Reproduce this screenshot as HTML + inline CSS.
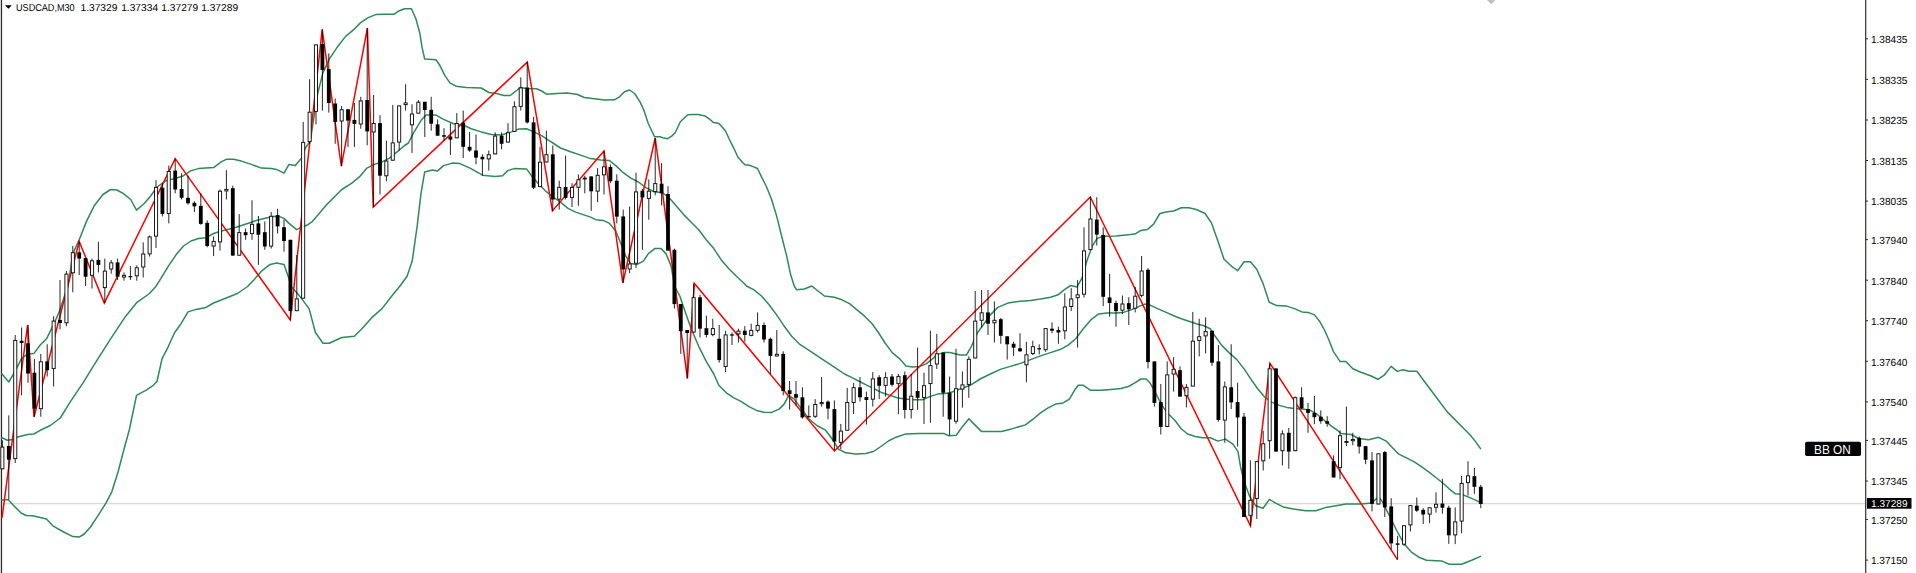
<!DOCTYPE html>
<html><head><meta charset="utf-8"><title>USDCAD,M30</title>
<style>
html,body{margin:0;padding:0;background:#fff;}
body{width:1916px;height:573px;overflow:hidden;font-family:"Liberation Sans",sans-serif;}
svg{display:block;position:absolute;left:0;top:0;}
text{font-family:"Liberation Sans",sans-serif;}
</style></head><body>
<svg width="1916" height="573" viewBox="0 0 1916 573">
<rect width="1916" height="573" fill="#fff"/>

<rect x="0.8" y="0" width="1.3" height="573" fill="#2a2a2a"/>
<rect x="2" y="502.9" width="1864" height="1.4" fill="#d9d9d9"/>
<polygon points="1487,0 1495.4,0 1491.2,4.2" fill="#c0c0c0"/>
<polyline points="2.0,374.0 8.8,382.0 15.0,371.4 21.4,358.9 27.6,353.9 34.0,353.4 40.2,345.0 46.5,338.8 52.8,326.2 59.0,312.4 65.3,293.5 67.9,286.5 72.9,253.6 79.2,239.8 86.7,220.9 94.2,205.8 103.0,194.5 110.6,189.5 116.9,190.0 123.1,193.3 130.7,199.5 136.5,210.1 144.5,203.3 150.8,195.8 157.1,187.0 165.9,180.7 176.0,178.2 183.5,175.7 191.0,170.6 198.5,168.6 206.0,168.1 213.6,167.6 221.2,161.8 226.2,159.3 233.7,159.3 241.3,161.1 251.3,164.4 261.4,168.1 271.4,168.6 276.5,169.4 284.0,173.2 289.0,164.4 295.3,165.6 301.6,158.0 305.4,148.0 310.4,140.6 313.5,120.0 317.7,93.5 322.9,72.9 329.2,59.1 336.8,47.8 345.6,36.4 353.1,30.2 360.6,22.6 368.2,17.6 375.7,14.6 384.5,14.3 393.8,14.3 398.3,11.3 404.6,8.8 411.4,8.8 415.9,18.8 419.7,32.7 422.2,47.8 424.7,59.1 436.0,59.8 439.8,65.3 444.8,75.4 449.9,82.9 456.1,86.2 466.2,87.5 481.3,88.0 488.8,92.5 496.4,93.5 503.9,95.5 510.2,95.5 515.2,91.7 520.2,87.5 526.5,88.5 536.6,88.7 541.6,91.0 546.6,94.2 556.7,93.5 566.7,93.0 576.8,94.2 584.3,97.5 594.4,98.8 604.4,100.0 614.5,99.8 619.5,96.8 624.5,91.7 629.5,90.0 634.6,93.5 640.0,101.9 643.8,110.0 648.2,123.2 654.5,136.8 660.1,136.8 663.9,138.1 667.6,138.7 671.4,136.4 675.2,132.7 680.2,122.0 684.0,118.2 687.8,114.8 692.8,114.5 698.4,114.5 701.6,115.3 705.3,116.1 709.1,118.8 713.5,122.6 718.5,123.2 721.7,126.4 725.4,130.8 729.2,139.0 733.6,147.8 738.0,157.2 741.8,161.6 744.9,164.7 749.3,165.3 753.1,166.6 757.5,168.5 761.5,176.9 766.6,187.0 771.6,199.5 776.6,215.9 781.6,236.0 786.7,256.1 790.4,273.7 794.2,286.0 796.7,289.8 804.2,289.0 811.8,286.0 818.0,291.0 824.4,296.0 834.4,297.3 842.0,299.8 849.5,303.6 857.0,309.9 864.6,316.2 872.1,323.7 878.4,332.5 884.7,342.5 892.2,352.6 899.8,358.9 906.0,365.9 912.3,366.9 919.9,366.4 926.1,363.9 932.4,358.9 937.5,354.4 943.7,352.6 950.0,352.6 960.1,355.1 966.4,355.1 971.4,346.3 977.7,332.5 984.0,323.7 990.3,314.9 997.8,307.4 1007.9,303.1 1017.9,301.6 1030.5,300.6 1040.5,299.1 1050.6,297.3 1058.1,294.8 1064.4,289.6 1070.7,285.5 1077.0,286.9 1082.0,278.1 1087.0,260.5 1092.0,246.7 1097.1,238.4 1103.4,236.2 1115.9,235.9 1126.0,234.9 1134.8,234.1 1141.0,230.4 1147.3,229.6 1153.6,224.1 1159.9,213.5 1166.2,212.0 1173.7,211.0 1181.3,207.8 1188.8,207.8 1196.3,209.5 1205.1,213.5 1211.4,222.8 1217.7,240.4 1224.0,259.3 1231.5,266.3 1237.8,270.6 1244.1,261.8 1250.4,261.8 1256.7,269.3 1262.9,283.1 1269.2,302.2 1276.8,305.6 1286.8,306.1 1294.4,308.6 1301.9,311.9 1308.2,312.4 1314.5,314.9 1319.5,321.2 1324.5,330.0 1328.9,340.0 1333.3,351.3 1340.2,361.6 1345.9,361.6 1352.8,368.7 1360.3,372.0 1370.4,375.8 1377.9,379.3 1384.2,375.2 1391.1,366.4 1397.4,371.4 1403.0,369.8 1408.7,371.2 1416.9,371.2 1424.4,381.5 1435.7,396.5 1447.0,411.6 1464.2,429.0 1470.4,435.3 1475.5,441.6 1480.5,448.6" fill="none" stroke="#2e8b57" stroke-width="1.5" stroke-linejoin="round" stroke-linecap="round"/>
<polyline points="2.0,437.8 7.5,440.3 12.6,439.6 17.6,437.0 27.6,434.5 33.9,434.0 40.2,430.3 50.3,425.5 60.3,418.0 70.4,401.6 83.0,382.8 95.5,362.7 110.6,338.8 125.7,316.2 137.0,302.3 149.5,293.5 155.8,286.5 160.8,278.7 168.4,266.1 176.0,254.8 183.5,246.0 191.0,241.0 198.5,238.5 206.0,237.7 213.6,233.5 221.2,231.0 228.7,229.2 236.2,227.2 243.8,224.7 251.3,222.2 258.9,219.7 266.4,217.9 272.7,216.4 279.0,216.4 284.0,218.4 289.0,223.4 296.6,229.7 301.6,227.2 307.9,224.7 311.6,222.2 319.2,213.4 326.7,204.6 334.3,197.0 341.8,189.5 351.8,183.2 359.4,176.9 366.9,168.1 374.5,164.4 382.0,161.8 389.5,158.1 397.1,151.8 404.6,145.5 408.4,143.0 413.4,133.2 421.0,120.6 426.0,115.1 436.0,115.1 443.6,119.4 453.6,123.7 463.7,125.2 471.2,128.7 481.3,131.9 491.3,134.5 501.4,135.0 511.4,131.9 519.0,128.9 526.5,128.7 534.0,131.9 541.6,135.7 549.1,140.7 552.9,143.0 560.5,148.0 570.5,151.8 580.6,155.1 590.6,158.6 600.7,160.1 609.5,160.6 615.8,165.6 623.3,172.7 630.8,178.2 638.4,182.0 645.9,187.7 653.5,191.5 662.3,192.8 668.5,197.0 676.1,205.8 683.6,214.6 691.2,222.2 698.7,229.7 706.2,239.8 713.8,248.6 721.3,259.9 728.9,268.7 736.4,276.2 743.9,283.2 746.5,286.0 754.0,289.8 761.5,296.0 769.1,304.8 776.6,314.9 784.2,326.2 791.7,336.3 799.2,343.8 806.8,348.8 814.3,353.9 821.8,358.9 829.4,363.9 836.9,368.9 844.5,374.0 852.0,377.7 859.5,381.5 867.1,385.3 874.6,389.0 882.2,392.8 889.7,395.3 897.2,397.8 904.8,399.1 912.3,399.8 922.4,399.8 929.9,396.6 937.5,394.1 945.0,393.6 950.0,392.8 960.1,389.0 970.2,385.3 980.2,379.0 990.3,374.0 1000.3,369.4 1010.4,366.4 1020.4,363.4 1030.5,359.6 1040.5,355.9 1050.6,352.6 1060.6,349.3 1068.2,345.1 1075.7,338.8 1083.3,328.7 1090.8,319.9 1098.3,314.1 1107.1,312.9 1115.9,313.1 1123.5,312.4 1131.0,309.9 1138.5,306.6 1144.8,304.1 1151.1,305.6 1158.7,309.1 1166.2,312.4 1173.7,315.7 1181.3,318.7 1188.8,321.2 1196.3,323.7 1203.9,325.7 1210.2,328.7 1215.2,336.3 1221.5,345.1 1229.0,352.6 1236.6,359.4 1244.1,368.9 1251.6,380.2 1257.9,389.0 1264.2,396.6 1271.7,402.1 1279.3,405.4 1286.8,407.4 1294.4,408.6 1301.9,409.1 1309.4,409.9 1317.0,414.2 1324.5,420.5 1332.1,426.7 1337.1,430.0 1341.0,433.5 1351.1,434.5 1358.6,438.5 1368.6,439.8 1378.7,437.3 1386.2,441.1 1392.5,447.8 1398.8,454.1 1406.4,457.9 1413.9,461.7 1421.4,466.7 1429.0,472.2 1436.5,478.0 1442.8,483.0 1449.1,488.8 1455.4,493.8 1461.6,494.3 1469.2,497.4 1476.7,500.6 1481.7,503.1" fill="none" stroke="#2e8b57" stroke-width="1.5" stroke-linejoin="round" stroke-linecap="round"/>
<polyline points="2.0,500.1 8.0,499.4 15.0,506.9 21.4,513.2 26.4,515.5 32.7,515.7 40.2,517.5 46.5,519.0 52.8,525.8 62.8,531.5 72.9,536.6 79.2,537.1 84.2,534.0 90.5,527.0 98.0,515.7 105.6,503.6 111.8,491.8 118.1,471.7 124.4,447.8 129.4,429.5 136.5,395.3 145.8,390.3 153.3,385.3 157.0,381.5 162.0,358.9 168.4,346.3 174.7,332.5 181.0,323.7 188.0,311.9 196.0,309.4 206.0,307.4 213.6,303.0 226.2,298.0 237.5,293.5 247.6,286.5 253.8,280.0 261.4,271.2 270.2,264.4 276.5,263.1 284.0,264.4 289.0,278.7 291.5,287.0 295.3,291.0 301.6,298.6 309.1,308.6 315.4,332.5 323.0,343.3 329.2,343.3 341.8,337.5 354.4,336.3 361.9,328.7 372.0,317.4 382.0,308.6 390.8,297.3 399.6,286.5 407.1,276.2 412.2,261.1 417.2,225.9 421.0,193.3 424.7,171.9 432.3,170.1 437.3,171.1 443.6,165.6 452.4,163.1 459.9,163.6 470.0,168.1 482.6,175.2 495.1,176.4 502.7,175.7 507.7,170.6 514.0,168.6 526.5,168.9 531.6,175.7 537.9,183.2 545.4,190.8 552.9,197.0 560.5,202.1 568.0,208.3 575.6,212.1 583.1,214.6 590.6,217.1 595.7,219.7 603.2,220.4 609.5,223.4 615.8,231.0 620.8,243.5 625.8,256.1 630.8,263.6 637.1,264.4 643.4,261.1 648.4,253.6 654.7,248.6 661.0,248.6 666.0,253.6 671.1,266.1 674.8,286.5 679.8,296.0 684.9,311.1 691.2,328.7 698.7,346.3 706.2,361.4 713.8,374.0 718.8,385.3 726.3,392.8 733.9,397.8 741.4,401.6 749.0,406.6 756.5,410.4 764.0,412.2 771.6,412.4 779.1,409.1 784.1,404.1 788.7,395.3 794.2,399.1 801.7,409.1 809.3,419.2 816.8,425.5 825.6,430.2 833.1,440.2 838.2,449.0 845.7,452.8 855.8,454.0 865.8,453.5 873.4,451.5 880.9,446.5 888.4,441.0 896.0,437.2 906.0,433.9 918.6,433.4 943.7,433.4 948.8,435.7 956.3,435.2 962.6,426.4 968.9,418.8 975.1,425.1 981.4,431.4 1001.5,431.4 1011.6,428.9 1025.4,424.9 1033.0,419.2 1040.5,412.9 1048.1,407.9 1055.6,404.1 1063.1,402.9 1069.4,399.1 1074.5,390.3 1078.2,385.3 1083.3,385.3 1090.8,390.3 1100.8,390.3 1110.9,389.5 1120.9,388.5 1128.5,386.5 1134.8,382.8 1141.0,379.0 1146.1,379.0 1149.9,382.8 1153.6,389.0 1158.7,399.1 1163.7,407.9 1168.7,414.2 1175.0,420.5 1181.4,429.0 1187.7,434.0 1195.2,436.5 1202.8,437.8 1210.3,437.8 1217.9,441.1 1225.4,439.1 1232.9,444.1 1238.0,451.6 1240.5,466.7 1244.2,481.8 1249.3,495.6 1255.6,505.7 1263.1,508.2 1269.4,499.4 1275.7,503.1 1283.2,506.9 1293.3,508.9 1305.8,510.7 1315.9,510.7 1325.9,507.4 1336.0,505.7 1346.0,503.9 1361.1,503.9 1371.2,503.1 1378.7,496.9 1382.5,501.9 1386.2,509.4 1391.3,519.5 1397.5,532.0 1403.8,543.4 1411.4,552.1 1418.9,557.2 1426.5,560.2 1441.5,560.9 1449.1,564.2 1461.6,564.2 1471.7,560.2 1480.5,556.4" fill="none" stroke="#2e8b57" stroke-width="1.5" stroke-linejoin="round" stroke-linecap="round"/>
<polyline points="2.0,518.0 27.6,325.0 34.0,417.0 79.2,241.5 104.3,303.1 175.2,158.6 290.3,320.0 322.2,29.4 341.3,166.1 367.4,28.1 373.2,207.1 527.3,62.1 552.4,210.9 604.0,151.0 622.8,283.0 655.2,138.0 687.4,378.5 694.4,283.5 834.4,451.0 1090.3,196.9 1250.5,525.8 1270.0,363.4 1397.5,559.7" fill="none" stroke="#ff0000" stroke-width="1.5" stroke-linejoin="miter"/>
<path d="M2.4 440.4V469.2M8.8 415.4V499.4M15.2 335.0V463.0M21.6 327.5V395.3M28.0 325.0V382.8M34.4 358.9V416.7M40.8 353.9V416.7M47.2 344.3V376.5M53.6 316.2V386.5M60.0 280.0V329.4M66.4 271.0V326.2M72.8 246.0V292.3M79.2 241.5V275.0M85.6 258.1V286.0M92.0 258.6V288.5M98.4 241.8V272.4M104.8 258.6V303.0M111.2 260.0V273.7M117.6 258.6V280.0M124.0 272.4V280.7M130.4 266.1V280.0M136.8 265.4V280.7M143.2 242.3V277.5M149.6 235.5V256.6M156.0 180.2V248.0M162.4 183.2V216.4M168.8 165.6V223.4M175.2 158.6V193.3M181.6 173.2V199.5M188.0 175.7V204.6M194.4 201.3V212.1M200.8 193.3V224.7M207.2 220.4V247.3M213.6 236.5V256.1M220.0 189.5V250.6M226.4 170.1V199.5M232.8 185.7V255.6M239.2 214.1V255.6M245.6 228.5V239.8M252.0 200.3V239.8M258.4 215.9V264.9M264.8 221.4V249.8M271.2 212.1V248.6M277.6 208.8V233.5M284.0 219.7V251.6M290.4 239.8V320.0M296.8 255.0V311.1M303.2 121.9V298.6M309.6 79.2V144.0M316.0 44.5V124.4M322.4 29.4V110.6M328.8 53.3V112.6M335.2 98.5V143.8M341.6 106.0V166.1M348.0 109.3V146.9M354.4 102.9V146.9M360.8 96.8V128.7M367.2 28.1V145.4M373.6 95.0V207.1M380.0 115.1V194.5M386.4 140.6V181.2M392.8 105.0V160.6M399.2 105.5V150.5M405.6 84.2V110.6M412.0 104.3V153.0M418.4 100.0V113.6M424.8 101.8V137.0M431.2 96.8V130.7M437.6 119.4V135.7M444.0 128.2V140.7M450.4 123.3V155.0M456.8 113.1V138.2M463.2 110.6V158.0M469.6 131.9V151.8M476.0 134.5V164.4M482.4 154.3V175.7M488.8 150.5V170.6M495.2 132.4V154.3M501.6 132.4V149.3M508.0 123.1V142.5M514.4 101.3V131.9M520.8 77.4V110.6M527.2 62.1V123.6M533.6 116.9V189.0M540.0 146.8V187.0M546.4 130.7V162.4M552.8 145.5V210.9M559.2 180.7V209.6M565.6 155.6V199.5M572.0 183.2V207.1M578.4 174.4V205.8M584.8 175.7V193.3M591.2 176.4V210.9M597.6 168.1V202.1M604.0 151.0V194.5M610.4 164.4V183.2M616.8 174.4V223.4M623.2 209.6V283.0M629.6 206.6V273.2M636.0 172.7V267.9M642.4 189.0V249.8M648.8 179.4V219.7M655.2 138.0V195.3M661.6 163.1V205.3M668.0 186.2V250.6M674.4 248.6V308.6M680.8 304.1V353.9M687.2 330.0V378.5M693.6 283.5V332.5M700.0 294.8V337.5M706.4 315.7V337.5M712.8 318.7V336.3M719.2 325.0V362.7M725.6 330.7V372.0M732.0 332.5V345.0M738.4 328.7V342.5M744.8 326.2V341.8M751.2 323.7V336.3M757.6 312.4V332.5M764.0 322.4V342.5M770.4 337.5V374.0M776.8 330.0V356.4M783.2 351.3V395.3M789.6 381.0V409.6M796.0 381.0V405.4M802.4 387.3V418.7M808.8 405.4V417.2M815.2 399.1V418.0M821.6 377.0V406.6M828.0 400.4V419.4M834.4 400.4V450.3M840.8 423.9V449.0M847.2 387.8V430.7M853.6 382.8V414.0M860.0 377.0V401.6M866.4 391.6V424.6M872.8 372.0V406.6M879.2 375.2V399.1M885.6 372.2V396.6M892.0 374.0V386.5M898.4 374.0V414.2M904.8 371.5V418.5M911.2 374.0V418.5M917.6 347.6V409.9M924.0 372.7V424.0M930.4 330.7V422.8M936.8 333.8V369.0M943.2 352.6V416.7M949.6 376.5V435.2M956.0 348.8V423.8M962.4 371.5V407.7M968.8 356.4V397.8M975.2 291.0V358.4M981.6 290.0V327.5M988.0 290.0V335.0M994.4 301.5V342.5M1000.8 318.0V343.8M1007.2 336.3V359.6M1013.6 341.8V355.9M1020.0 333.2V351.8M1026.4 341.8V382.3M1032.8 340.8V355.1M1039.2 344.3V354.4M1045.6 328.2V351.8M1052.0 322.4V333.2M1058.4 326.7V343.8M1064.8 293.3V339.3M1071.2 288.2V311.1M1077.6 280.1V347.6M1084.0 227.4V297.5M1090.4 196.9V250.0M1096.8 197.2V245.5M1103.2 227.4V306.1M1109.6 273.8V316.7M1116.0 300.6V326.7M1122.4 295.6V314.1M1128.8 297.2V325.0M1135.2 286.9V312.4M1141.6 256.0V297.3M1148.0 268.1V368.4M1154.4 361.4V406.6M1160.8 384.0V434.5M1167.2 361.4V426.9M1173.6 357.1V391.6M1180.0 366.4V396.6M1186.4 384.0V407.4M1192.8 311.9V386.5M1199.2 318.7V356.4M1205.6 317.4V353.4M1212.0 330.7V365.9M1218.4 345.1V421.7M1224.8 381.5V442.8M1231.2 344.3V409.1M1237.6 382.8V446.6M1244.0 412.9V517.0M1250.4 460.4V525.8M1256.8 461.2V519.0M1263.2 430.8V470.5M1269.6 363.4V458.7M1276.0 368.4V451.6M1282.4 430.3V465.4M1288.8 428.0V468.7M1295.2 396.5V451.1M1301.6 387.3V409.0M1308.0 402.9V432.8M1314.4 396.0V424.2M1320.8 410.4V423.7M1327.2 416.2V426.7M1333.6 455.4V477.5M1340.0 430.3V479.3M1346.4 406.6V446.1M1352.8 432.8V445.3M1359.2 436.5V453.6M1365.6 446.1V464.2M1372.0 452.1V511.4M1378.4 453.4V504.4M1384.8 451.0V517.0M1391.2 498.1V549.6M1397.6 535.8V559.7M1404.0 525.3V545.9M1410.4 505.2V531.5M1416.8 497.6V511.9M1423.2 508.2V524.0M1429.6 507.4V523.2M1436.0 492.3V512.7M1442.4 478.8V513.7M1448.8 505.7V543.9M1455.2 507.4V544.1M1461.6 476.0V533.3M1468.0 461.2V495.6M1474.4 468.0V493.8M1480.8 484.8V508.2" stroke="#000" stroke-width="0.85" fill="none"/>
<g fill="#000"><rect x="6.9" y="446.0" width="3.8" height="13.7"/><rect x="19.7" y="340.8" width="3.8" height="2.2"/><rect x="26.1" y="343.3" width="3.8" height="30.2"/><rect x="32.5" y="372.7" width="3.8" height="35.9"/><rect x="45.3" y="361.4" width="3.8" height="8.8"/><rect x="58.1" y="320.0" width="3.8" height="3.0"/><rect x="77.3" y="252.3" width="3.8" height="6.3"/><rect x="83.7" y="258.1" width="3.8" height="18.6"/><rect x="96.5" y="259.9" width="3.8" height="5.0"/><rect x="115.7" y="262.4" width="3.8" height="14.3"/><rect x="128.5" y="276.1" width="3.8" height="1.2"/><rect x="160.5" y="187.7" width="3.8" height="26.2"/><rect x="173.3" y="170.6" width="3.8" height="18.9"/><rect x="179.7" y="189.0" width="3.8" height="8.8"/><rect x="186.1" y="197.8" width="3.8" height="5.5"/><rect x="192.5" y="202.8" width="3.8" height="3.5"/><rect x="198.9" y="205.8" width="3.8" height="18.1"/><rect x="205.3" y="222.9" width="3.8" height="23.1"/><rect x="230.9" y="188.2" width="3.8" height="67.4"/><rect x="243.7" y="232.2" width="3.8" height="3.0"/><rect x="256.5" y="223.4" width="3.8" height="11.3"/><rect x="262.9" y="232.2" width="3.8" height="14.3"/><rect x="275.7" y="215.1" width="3.8" height="11.3"/><rect x="282.1" y="227.2" width="3.8" height="13.8"/><rect x="288.5" y="239.8" width="3.8" height="71.3"/><rect x="320.5" y="44.0" width="3.8" height="25.9"/><rect x="326.9" y="69.1" width="3.8" height="33.9"/><rect x="333.3" y="103.5" width="3.8" height="18.4"/><rect x="346.1" y="109.3" width="3.8" height="11.3"/><rect x="352.5" y="119.9" width="3.8" height="4.0"/><rect x="365.3" y="100.0" width="3.8" height="31.4"/><rect x="378.1" y="123.1" width="3.8" height="52.6"/><rect x="422.9" y="101.8" width="3.8" height="8.2"/><rect x="429.3" y="109.8" width="3.8" height="13.9"/><rect x="435.7" y="124.4" width="3.8" height="11.3"/><rect x="442.1" y="135.2" width="3.8" height="1.5"/><rect x="448.5" y="136.5" width="3.8" height="3.1"/><rect x="461.3" y="122.6" width="3.8" height="24.2"/><rect x="467.7" y="146.8" width="3.8" height="3.7"/><rect x="474.1" y="150.5" width="3.8" height="7.1"/><rect x="480.5" y="156.8" width="3.8" height="2.5"/><rect x="499.7" y="135.7" width="3.8" height="8.1"/><rect x="525.3" y="87.5" width="3.8" height="34.9"/><rect x="531.7" y="122.4" width="3.8" height="65.3"/><rect x="550.9" y="154.3" width="3.8" height="45.2"/><rect x="563.7" y="187.0" width="3.8" height="10.8"/><rect x="589.3" y="176.4" width="3.8" height="14.9"/><rect x="608.5" y="166.9" width="3.8" height="14.3"/><rect x="614.9" y="180.7" width="3.8" height="35.9"/><rect x="621.3" y="216.4" width="3.8" height="53.0"/><rect x="640.5" y="190.8" width="3.8" height="6.7"/><rect x="659.7" y="183.7" width="3.8" height="9.6"/><rect x="666.1" y="194.0" width="3.8" height="56.6"/><rect x="672.5" y="249.8" width="3.8" height="54.3"/><rect x="678.9" y="304.1" width="3.8" height="27.1"/><rect x="685.3" y="330.0" width="3.8" height="3.0"/><rect x="698.1" y="297.3" width="3.8" height="31.4"/><rect x="704.5" y="328.2" width="3.8" height="6.8"/><rect x="717.3" y="338.8" width="3.8" height="21.3"/><rect x="730.1" y="334.4" width="3.8" height="1.2"/><rect x="742.9" y="330.7" width="3.8" height="4.3"/><rect x="762.1" y="325.0" width="3.8" height="14.5"/><rect x="768.5" y="338.8" width="3.8" height="17.1"/><rect x="781.3" y="353.9" width="3.8" height="37.1"/><rect x="787.7" y="390.3" width="3.8" height="3.8"/><rect x="794.1" y="394.1" width="3.8" height="3.7"/><rect x="800.5" y="397.3" width="3.8" height="20.1"/><rect x="806.9" y="416.1" width="3.8" height="1.2"/><rect x="826.1" y="401.6" width="3.8" height="7.0"/><rect x="832.5" y="409.1" width="3.8" height="32.4"/><rect x="858.1" y="387.3" width="3.8" height="10.0"/><rect x="864.5" y="397.0" width="3.8" height="3.0"/><rect x="877.3" y="377.2" width="3.8" height="8.6"/><rect x="890.1" y="376.5" width="3.8" height="8.3"/><rect x="902.9" y="375.2" width="3.8" height="34.8"/><rect x="915.7" y="391.0" width="3.8" height="6.8"/><rect x="941.3" y="352.6" width="3.8" height="40.2"/><rect x="947.7" y="392.8" width="3.8" height="26.6"/><rect x="986.1" y="312.4" width="3.8" height="11.3"/><rect x="998.9" y="319.2" width="3.8" height="16.6"/><rect x="1005.3" y="336.3" width="3.8" height="8.0"/><rect x="1011.7" y="343.8" width="3.8" height="3.8"/><rect x="1018.1" y="348.3" width="3.8" height="3.0"/><rect x="1037.3" y="348.2" width="3.8" height="1.2"/><rect x="1050.1" y="328.7" width="3.8" height="2.0"/><rect x="1056.5" y="330.0" width="3.8" height="2.5"/><rect x="1094.9" y="219.6" width="3.8" height="15.0"/><rect x="1101.3" y="234.9" width="3.8" height="61.9"/><rect x="1107.7" y="297.4" width="3.8" height="5.6"/><rect x="1114.1" y="303.0" width="3.8" height="8.1"/><rect x="1126.9" y="303.1" width="3.8" height="6.3"/><rect x="1146.1" y="269.8" width="3.8" height="92.3"/><rect x="1152.5" y="361.4" width="3.8" height="41.5"/><rect x="1158.9" y="402.1" width="3.8" height="24.8"/><rect x="1178.1" y="370.2" width="3.8" height="26.4"/><rect x="1210.1" y="330.7" width="3.8" height="32.0"/><rect x="1216.5" y="361.4" width="3.8" height="58.6"/><rect x="1229.3" y="387.3" width="3.8" height="15.1"/><rect x="1235.7" y="402.1" width="3.8" height="15.3"/><rect x="1242.1" y="416.7" width="3.8" height="100.3"/><rect x="1274.1" y="368.4" width="3.8" height="83.2"/><rect x="1286.9" y="432.8" width="3.8" height="18.8"/><rect x="1299.7" y="397.3" width="3.8" height="11.1"/><rect x="1306.1" y="409.1" width="3.8" height="3.8"/><rect x="1312.5" y="412.9" width="3.8" height="4.3"/><rect x="1318.9" y="416.7" width="3.8" height="4.5"/><rect x="1325.3" y="421.2" width="3.8" height="2.5"/><rect x="1331.7" y="461.2" width="3.8" height="16.3"/><rect x="1357.3" y="437.8" width="3.8" height="8.8"/><rect x="1363.7" y="446.1" width="3.8" height="13.6"/><rect x="1370.1" y="460.4" width="3.8" height="43.5"/><rect x="1382.9" y="452.1" width="3.8" height="55.3"/><rect x="1389.3" y="506.4" width="3.8" height="37.0"/><rect x="1395.7" y="543.4" width="3.8" height="1.4"/><rect x="1414.9" y="505.7" width="3.8" height="5.0"/><rect x="1421.3" y="509.9" width="3.8" height="4.6"/><rect x="1440.5" y="503.6" width="3.8" height="4.1"/><rect x="1446.9" y="507.7" width="3.8" height="27.6"/><rect x="1472.5" y="476.2" width="3.8" height="10.6"/><rect x="1478.9" y="486.8" width="3.8" height="17.1"/></g>
<g fill="#fff" stroke="#111" stroke-width="0.95"><rect x="0.8" y="447.1" width="3.1" height="21.7"/><rect x="13.7" y="340.4" width="3.1" height="118.2"/><rect x="39.3" y="361.8" width="3.1" height="46.9"/><rect x="52.1" y="321.1" width="3.1" height="47.5"/><rect x="64.9" y="274.1" width="3.1" height="48.7"/><rect x="71.3" y="252.7" width="3.1" height="20.1"/><rect x="90.5" y="260.8" width="3.1" height="14.5"/><rect x="103.3" y="271.1" width="3.1" height="16.5"/><rect x="109.7" y="262.8" width="3.1" height="6.2"/><rect x="122.5" y="275.4" width="3.1" height="1.7"/><rect x="135.2" y="267.8" width="3.1" height="8.0"/><rect x="141.7" y="254.0" width="3.1" height="13.0"/><rect x="148.1" y="236.9" width="3.1" height="17.0"/><rect x="154.5" y="187.4" width="3.1" height="48.7"/><rect x="167.2" y="171.5" width="3.1" height="42.0"/><rect x="212.1" y="241.4" width="3.1" height="4.7"/><rect x="218.5" y="191.2" width="3.1" height="50.7"/><rect x="224.8" y="189.4" width="3.1" height="1.5"/><rect x="237.7" y="232.6" width="3.1" height="22.6"/><rect x="250.5" y="224.3" width="3.1" height="9.3"/><rect x="269.6" y="216.3" width="3.1" height="29.8"/><rect x="295.2" y="298.9" width="3.1" height="11.8"/><rect x="301.6" y="142.4" width="3.1" height="155.8"/><rect x="308.1" y="112.2" width="3.1" height="29.4"/><rect x="314.4" y="44.9" width="3.1" height="66.5"/><rect x="340.1" y="109.7" width="3.1" height="11.3"/><rect x="359.2" y="100.9" width="3.1" height="23.1"/><rect x="372.1" y="123.5" width="3.1" height="8.5"/><rect x="384.8" y="161.0" width="3.1" height="14.8"/><rect x="391.2" y="142.9" width="3.1" height="17.3"/><rect x="397.6" y="105.9" width="3.1" height="36.2"/><rect x="404.1" y="102.9" width="3.1" height="1.7"/><rect x="410.4" y="114.0" width="3.1" height="10.8"/><rect x="416.8" y="102.2" width="3.1" height="11.0"/><rect x="455.2" y="123.5" width="3.1" height="14.3"/><rect x="487.2" y="154.7" width="3.1" height="4.2"/><rect x="493.6" y="136.1" width="3.1" height="17.8"/><rect x="506.4" y="132.8" width="3.1" height="9.3"/><rect x="512.9" y="106.7" width="3.1" height="24.8"/><rect x="519.2" y="87.9" width="3.1" height="18.5"/><rect x="538.5" y="162.2" width="3.1" height="24.4"/><rect x="544.9" y="154.7" width="3.1" height="7.3"/><rect x="557.7" y="187.4" width="3.1" height="11.7"/><rect x="570.5" y="187.4" width="3.1" height="10.0"/><rect x="576.9" y="179.8" width="3.1" height="7.5"/><rect x="583.2" y="178.1" width="3.1" height="0.9"/><rect x="596.1" y="175.3" width="3.1" height="15.8"/><rect x="602.5" y="166.8" width="3.1" height="8.0"/><rect x="628.1" y="264.0" width="3.1" height="5.0"/><rect x="634.5" y="191.9" width="3.1" height="71.3"/><rect x="647.3" y="191.2" width="3.1" height="7.2"/><rect x="653.7" y="183.6" width="3.1" height="8.0"/><rect x="692.1" y="297.7" width="3.1" height="34.4"/><rect x="711.3" y="328.6" width="3.1" height="6.0"/><rect x="724.1" y="334.9" width="3.1" height="31.6"/><rect x="736.9" y="331.1" width="3.1" height="2.8"/><rect x="749.7" y="330.4" width="3.1" height="5.0"/><rect x="756.1" y="325.4" width="3.1" height="4.9"/><rect x="775.3" y="354.3" width="3.1" height="1.7"/><rect x="813.7" y="404.5" width="3.1" height="11.8"/><rect x="820.1" y="402.5" width="3.1" height="1.2"/><rect x="839.3" y="431.1" width="3.1" height="11.2"/><rect x="845.7" y="402.5" width="3.1" height="27.8"/><rect x="852.1" y="387.7" width="3.1" height="14.8"/><rect x="871.3" y="378.9" width="3.1" height="20.3"/><rect x="884.1" y="377.6" width="3.1" height="7.8"/><rect x="896.9" y="376.4" width="3.1" height="7.2"/><rect x="909.7" y="396.2" width="3.1" height="13.4"/><rect x="922.5" y="385.7" width="3.1" height="11.7"/><rect x="928.9" y="365.6" width="3.1" height="18.0"/><rect x="935.3" y="353.8" width="3.1" height="10.2"/><rect x="954.5" y="388.7" width="3.1" height="32.5"/><rect x="960.9" y="384.9" width="3.1" height="4.2"/><rect x="967.3" y="359.3" width="3.1" height="25.1"/><rect x="973.7" y="321.1" width="3.1" height="36.9"/><rect x="980.1" y="312.8" width="3.1" height="7.5"/><rect x="992.9" y="320.3" width="3.1" height="2.5"/><rect x="1024.9" y="354.8" width="3.1" height="10.0"/><rect x="1031.3" y="346.7" width="3.1" height="6.8"/><rect x="1044.1" y="328.6" width="3.1" height="21.1"/><rect x="1063.3" y="307.0" width="3.1" height="23.8"/><rect x="1069.7" y="299.0" width="3.1" height="7.5"/><rect x="1076.1" y="294.8" width="3.1" height="2.9"/><rect x="1082.5" y="250.9" width="3.1" height="43.3"/><rect x="1088.9" y="219.0" width="3.1" height="30.6"/><rect x="1120.9" y="304.0" width="3.1" height="6.2"/><rect x="1133.7" y="296.2" width="3.1" height="12.0"/><rect x="1140.1" y="271.0" width="3.1" height="24.4"/><rect x="1165.7" y="374.9" width="3.1" height="51.6"/><rect x="1172.1" y="369.3" width="3.1" height="4.8"/><rect x="1184.9" y="387.4" width="3.1" height="8.3"/><rect x="1191.3" y="341.2" width="3.1" height="44.9"/><rect x="1197.7" y="336.7" width="3.1" height="3.7"/><rect x="1204.1" y="331.6" width="3.1" height="4.3"/><rect x="1223.3" y="386.9" width="3.1" height="33.2"/><rect x="1248.9" y="500.3" width="3.1" height="15.0"/><rect x="1255.3" y="461.6" width="3.1" height="36.9"/><rect x="1261.7" y="443.8" width="3.1" height="17.0"/><rect x="1268.1" y="368.8" width="3.1" height="71.9"/><rect x="1280.9" y="433.9" width="3.1" height="16.8"/><rect x="1293.7" y="397.7" width="3.1" height="53.0"/><rect x="1338.5" y="435.7" width="3.1" height="31.9"/><rect x="1344.9" y="441.5" width="3.1" height="0.9"/><rect x="1351.3" y="439.5" width="3.1" height="1.2"/><rect x="1376.9" y="453.8" width="3.1" height="50.2"/><rect x="1402.5" y="525.7" width="3.1" height="18.5"/><rect x="1408.9" y="505.6" width="3.1" height="19.3"/><rect x="1428.1" y="507.8" width="3.1" height="6.3"/><rect x="1434.5" y="504.3" width="3.1" height="3.0"/><rect x="1453.7" y="521.9" width="3.1" height="13.0"/><rect x="1460.1" y="483.4" width="3.1" height="37.7"/><rect x="1466.5" y="475.9" width="3.1" height="6.7"/></g>
<polygon points="5,5.2 11.8,5.2 8.4,8.8" fill="#000"/>
<text x="16" y="10.8" text-rendering="geometricPrecision" font-size="10" fill="#000" textLength="58.6" lengthAdjust="spacingAndGlyphs">USDCAD,M30</text>
<text x="80.5" y="10.8" text-rendering="geometricPrecision" font-size="10" fill="#000" textLength="36.9" lengthAdjust="spacingAndGlyphs">1.37329</text>
<text x="121.2" y="10.8" text-rendering="geometricPrecision" font-size="10" fill="#000" textLength="36.9" lengthAdjust="spacingAndGlyphs">1.37334</text>
<text x="161.3" y="10.8" text-rendering="geometricPrecision" font-size="10" fill="#000" textLength="36.9" lengthAdjust="spacingAndGlyphs">1.37279</text>
<text x="201.2" y="10.8" text-rendering="geometricPrecision" font-size="10" fill="#000" textLength="36.9" lengthAdjust="spacingAndGlyphs">1.37289</text>
<rect x="1865.1" y="0" width="1.2" height="573" fill="#303030"/>
<rect x="1866" y="38.3" width="2" height="1" fill="#2a2a2a"/>
<text x="1870.9" y="43.1" text-rendering="geometricPrecision" font-size="10.3" fill="#000" textLength="36.5" lengthAdjust="spacingAndGlyphs">1.38435</text>
<rect x="1866" y="78.9" width="2" height="1" fill="#2a2a2a"/>
<text x="1870.9" y="83.7" text-rendering="geometricPrecision" font-size="10.3" fill="#000" textLength="36.5" lengthAdjust="spacingAndGlyphs">1.38335</text>
<rect x="1866" y="119.5" width="2" height="1" fill="#2a2a2a"/>
<text x="1870.9" y="124.3" text-rendering="geometricPrecision" font-size="10.3" fill="#000" textLength="36.5" lengthAdjust="spacingAndGlyphs">1.38235</text>
<rect x="1866" y="160.0" width="2" height="1" fill="#2a2a2a"/>
<text x="1870.9" y="164.8" text-rendering="geometricPrecision" font-size="10.3" fill="#000" textLength="36.5" lengthAdjust="spacingAndGlyphs">1.38135</text>
<rect x="1866" y="200.6" width="2" height="1" fill="#2a2a2a"/>
<text x="1870.9" y="205.4" text-rendering="geometricPrecision" font-size="10.3" fill="#000" textLength="36.5" lengthAdjust="spacingAndGlyphs">1.38035</text>
<rect x="1866" y="239.1" width="2" height="1" fill="#2a2a2a"/>
<text x="1870.9" y="243.9" text-rendering="geometricPrecision" font-size="10.3" fill="#000" textLength="36.5" lengthAdjust="spacingAndGlyphs">1.37940</text>
<rect x="1866" y="279.7" width="2" height="1" fill="#2a2a2a"/>
<text x="1870.9" y="284.5" text-rendering="geometricPrecision" font-size="10.3" fill="#000" textLength="36.5" lengthAdjust="spacingAndGlyphs">1.37840</text>
<rect x="1866" y="320.2" width="2" height="1" fill="#2a2a2a"/>
<text x="1870.9" y="325.0" text-rendering="geometricPrecision" font-size="10.3" fill="#000" textLength="36.5" lengthAdjust="spacingAndGlyphs">1.37740</text>
<rect x="1866" y="360.8" width="2" height="1" fill="#2a2a2a"/>
<text x="1870.9" y="365.6" text-rendering="geometricPrecision" font-size="10.3" fill="#000" textLength="36.5" lengthAdjust="spacingAndGlyphs">1.37640</text>
<rect x="1866" y="401.4" width="2" height="1" fill="#2a2a2a"/>
<text x="1870.9" y="406.2" text-rendering="geometricPrecision" font-size="10.3" fill="#000" textLength="36.5" lengthAdjust="spacingAndGlyphs">1.37540</text>
<rect x="1866" y="439.9" width="2" height="1" fill="#2a2a2a"/>
<text x="1870.9" y="444.7" text-rendering="geometricPrecision" font-size="10.3" fill="#000" textLength="36.5" lengthAdjust="spacingAndGlyphs">1.37445</text>
<rect x="1866" y="480.5" width="2" height="1" fill="#2a2a2a"/>
<text x="1870.9" y="485.3" text-rendering="geometricPrecision" font-size="10.3" fill="#000" textLength="36.5" lengthAdjust="spacingAndGlyphs">1.37345</text>
<rect x="1866" y="519.0" width="2" height="1" fill="#2a2a2a"/>
<text x="1870.9" y="523.8" text-rendering="geometricPrecision" font-size="10.3" fill="#000" textLength="36.5" lengthAdjust="spacingAndGlyphs">1.37250</text>
<rect x="1866" y="559.6" width="2" height="1" fill="#2a2a2a"/>
<text x="1870.9" y="564.4" text-rendering="geometricPrecision" font-size="10.3" fill="#000" textLength="36.5" lengthAdjust="spacingAndGlyphs">1.37150</text>
<rect x="1866.9" y="498" width="44.6" height="10.7" fill="#000"/>
<text x="1871.1" y="507.1" text-rendering="geometricPrecision" font-size="10" fill="#fff" textLength="36.4" lengthAdjust="spacingAndGlyphs">1.37289</text>
<rect x="1805.1" y="441.8" width="55.9" height="14.3" rx="1.8" fill="#000"/>
<text x="1814" y="454.3" font-size="12.6" fill="#fff" textLength="36.8" lengthAdjust="spacingAndGlyphs">BB ON</text>
</svg></body></html>
